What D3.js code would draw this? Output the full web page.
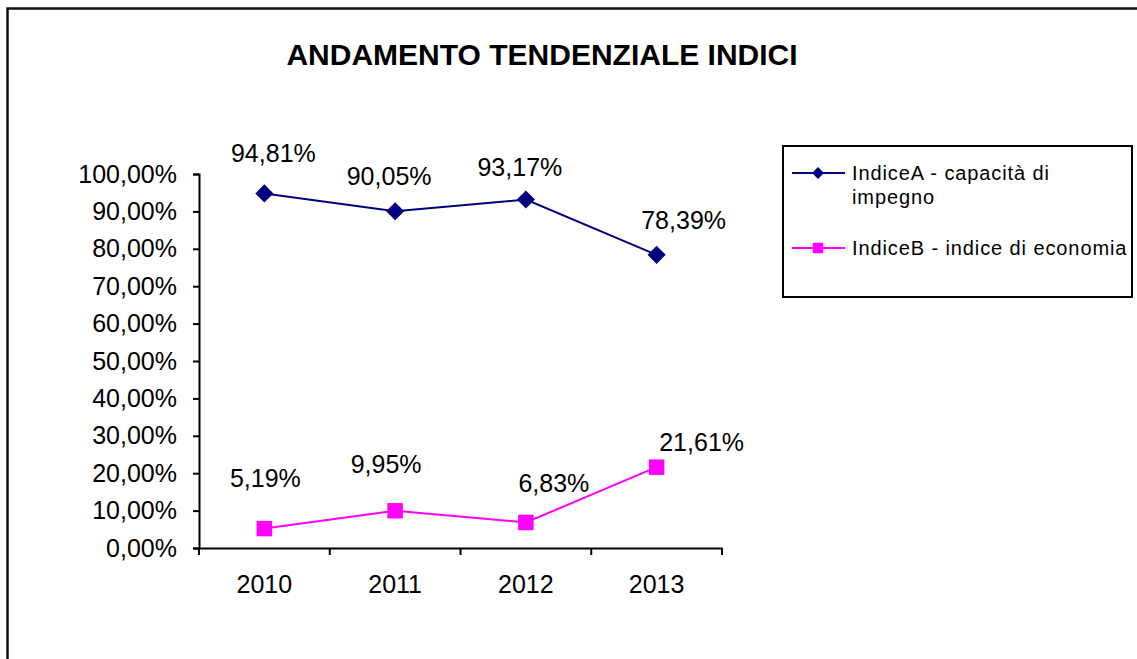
<!DOCTYPE html>
<html>
<head>
<meta charset="utf-8">
<script src="https://cdn.jsdelivr.net/npm/d3@7"></script>
<style>
    body { margin: 0; background: #fff; }
    svg { display: block; font-family: "Liberation Sans", Arial, sans-serif; }
</style>
</head>
<body>
<div id="chart"></div>
<script>
var years = ['2010', '2011', '2012', '2013'],
    indiceA = [94.81, 90.05, 93.17, 78.39],
    indiceB = [5.19, 9.95, 6.83, 21.61],
    yTicks = [0, 10, 20, 30, 40, 50, 60, 70, 80, 90, 100],
    seriesNames = [['IndiceA - capacità di', 'impegno'], ['IndiceB - indice di economia']],
    seriesColors = ['#000080', '#ff00ff'];

// label nudges (px) to sit where the original put them
var labelNudgeA = [[9, -31], [-6, -26], [-6, -24], [27, -26]],
    labelNudgeB = [[1, -42], [-9, -38], [28, -30], [45, -16]];

var width = 1137,
    height = 659;

var svg = d3.select('#chart').append('svg')
    .attr('width', width)
    .attr('height', height);

// outer frame, runs past the right/bottom edge
svg.append('rect')
    .attr('x', 7.5).attr('y', 8.5)
    .attr('width', 1160).attr('height', 680)
    .attr('fill', 'none')
    .attr('stroke', '#111')
    .attr('stroke-width', 2.5);

svg.append('text')
    .attr('x', 542).attr('y', 65)
    .attr('text-anchor', 'middle')
    .style('font-size', '30px')
    .style('font-weight', 'bold')
    .text('ANDAMENTO TENDENZIALE INDICI');

var x = d3.scaleBand()
    .domain(years)
    .range([199, 722]);

var y = d3.scaleLinear()
    .domain([0, 100])
    .range([548, 174]);

var fmt = function(v) {
    return d3.format('.2f')(v).replace('.', ',') + '%';
};

// y axis
var yAxis = d3.axisLeft(y)
    .tickValues(yTicks)
    .tickSize(6)
    .tickPadding(16)
    .tickFormat(fmt);

var gy = svg.append('g')
    .attr('transform', 'translate(199,0)')
    .call(yAxis);
gy.select('.domain').attr('stroke', '#000').attr('stroke-width', 2);
gy.selectAll('.tick line').attr('stroke', '#000').attr('stroke-width', 2);
gy.selectAll('.tick text')
    .attr('fill', '#000')
    .style('font-size', '25px')
    .style('font-family', '"Liberation Sans", Arial, sans-serif');

// x axis: ticks on category boundaries
var xAxis = d3.axisBottom(x)
    .tickSize(0)
    .tickPadding(27)
    .tickSizeOuter(0);

var gx = svg.append('g')
    .attr('transform', 'translate(0,548)')
    .call(xAxis);
gx.select('.domain').attr('stroke', '#000').attr('stroke-width', 2);
gx.selectAll('.tick text')
    .attr('fill', '#000')
    .style('font-size', '25px')
    .style('font-family', '"Liberation Sans", Arial, sans-serif');

var bounds = years.map(function(d) { return x(d); }).concat([x.range()[1]]);
gx.selectAll('line.bound')
    .data(bounds)
  .enter().append('line')
    .attr('class', 'bound')
    .attr('x1', function(d) { return d; })
    .attr('x2', function(d) { return d; })
    .attr('y1', 0).attr('y2', 7)
    .attr('stroke', '#000')
    .attr('stroke-width', 2);

var cx = function(d, i) { return x(years[i]) + x.bandwidth() / 2; };

var line = d3.line()
    .x(cx)
    .y(function(d) { return y(d); });

var diamond = d3.symbol().type(d3.symbolDiamond2).size(210),
    square = d3.symbol().type(d3.symbolSquare).size(240);

function drawSeries(values, color, marker, nudges) {
    var g = svg.append('g');
    g.append('path')
        .datum(values)
        .attr('d', line)
        .attr('fill', 'none')
        .attr('stroke', color)
        .attr('stroke-width', 2);

    g.selectAll('path.marker')
        .data(values)
      .enter().append('path')
        .attr('class', 'marker')
        .attr('d', marker)
        .attr('transform', function(d, i) {
            return 'translate(' + cx(d, i) + ',' + y(d) + ')';
        })
        .attr('fill', color);

    g.selectAll('text')
        .data(values)
      .enter().append('text')
        .attr('x', function(d, i) { return cx(d, i) + nudges[i][0]; })
        .attr('y', function(d, i) { return y(d) + nudges[i][1]; })
        .attr('text-anchor', 'middle')
        .style('font-size', '25px')
        .text(fmt);
}

drawSeries(indiceA, seriesColors[0], diamond, labelNudgeA);
drawSeries(indiceB, seriesColors[1], square, labelNudgeB);

// legend
var legend = svg.append('g');
legend.append('rect')
    .attr('x', 783).attr('y', 146)
    .attr('width', 349).attr('height', 151)
    .attr('fill', '#fff')
    .attr('stroke', '#000')
    .attr('stroke-width', 2);

var legendRows = [
    {y: 173, marker: diamond},
    {y: 248, marker: square}
];

legendRows.forEach(function(row, i) {
    legend.append('line')
        .attr('x1', 792).attr('x2', 845)
        .attr('y1', row.y).attr('y2', row.y)
        .attr('stroke', seriesColors[i])
        .attr('stroke-width', 2);
    legend.append('path')
        .attr('d', i === 0 ? d3.symbol().type(d3.symbolDiamond2).size(90)() : d3.symbol().type(d3.symbolSquare).size(110)())
        .attr('transform', 'translate(818,' + row.y + ')')
        .attr('fill', seriesColors[i]);
    var t = legend.append('text')
        .attr('x', 852)
        .attr('y', row.y + 7)
        .style('font-size', '20px')
        .style('letter-spacing', '0.9px');
    seriesNames[i].forEach(function(s, j) {
        t.append('tspan')
            .attr('x', 852)
            .attr('dy', j === 0 ? 0 : 24)
            .text(s);
    });
});
</script>
</body>
</html>
